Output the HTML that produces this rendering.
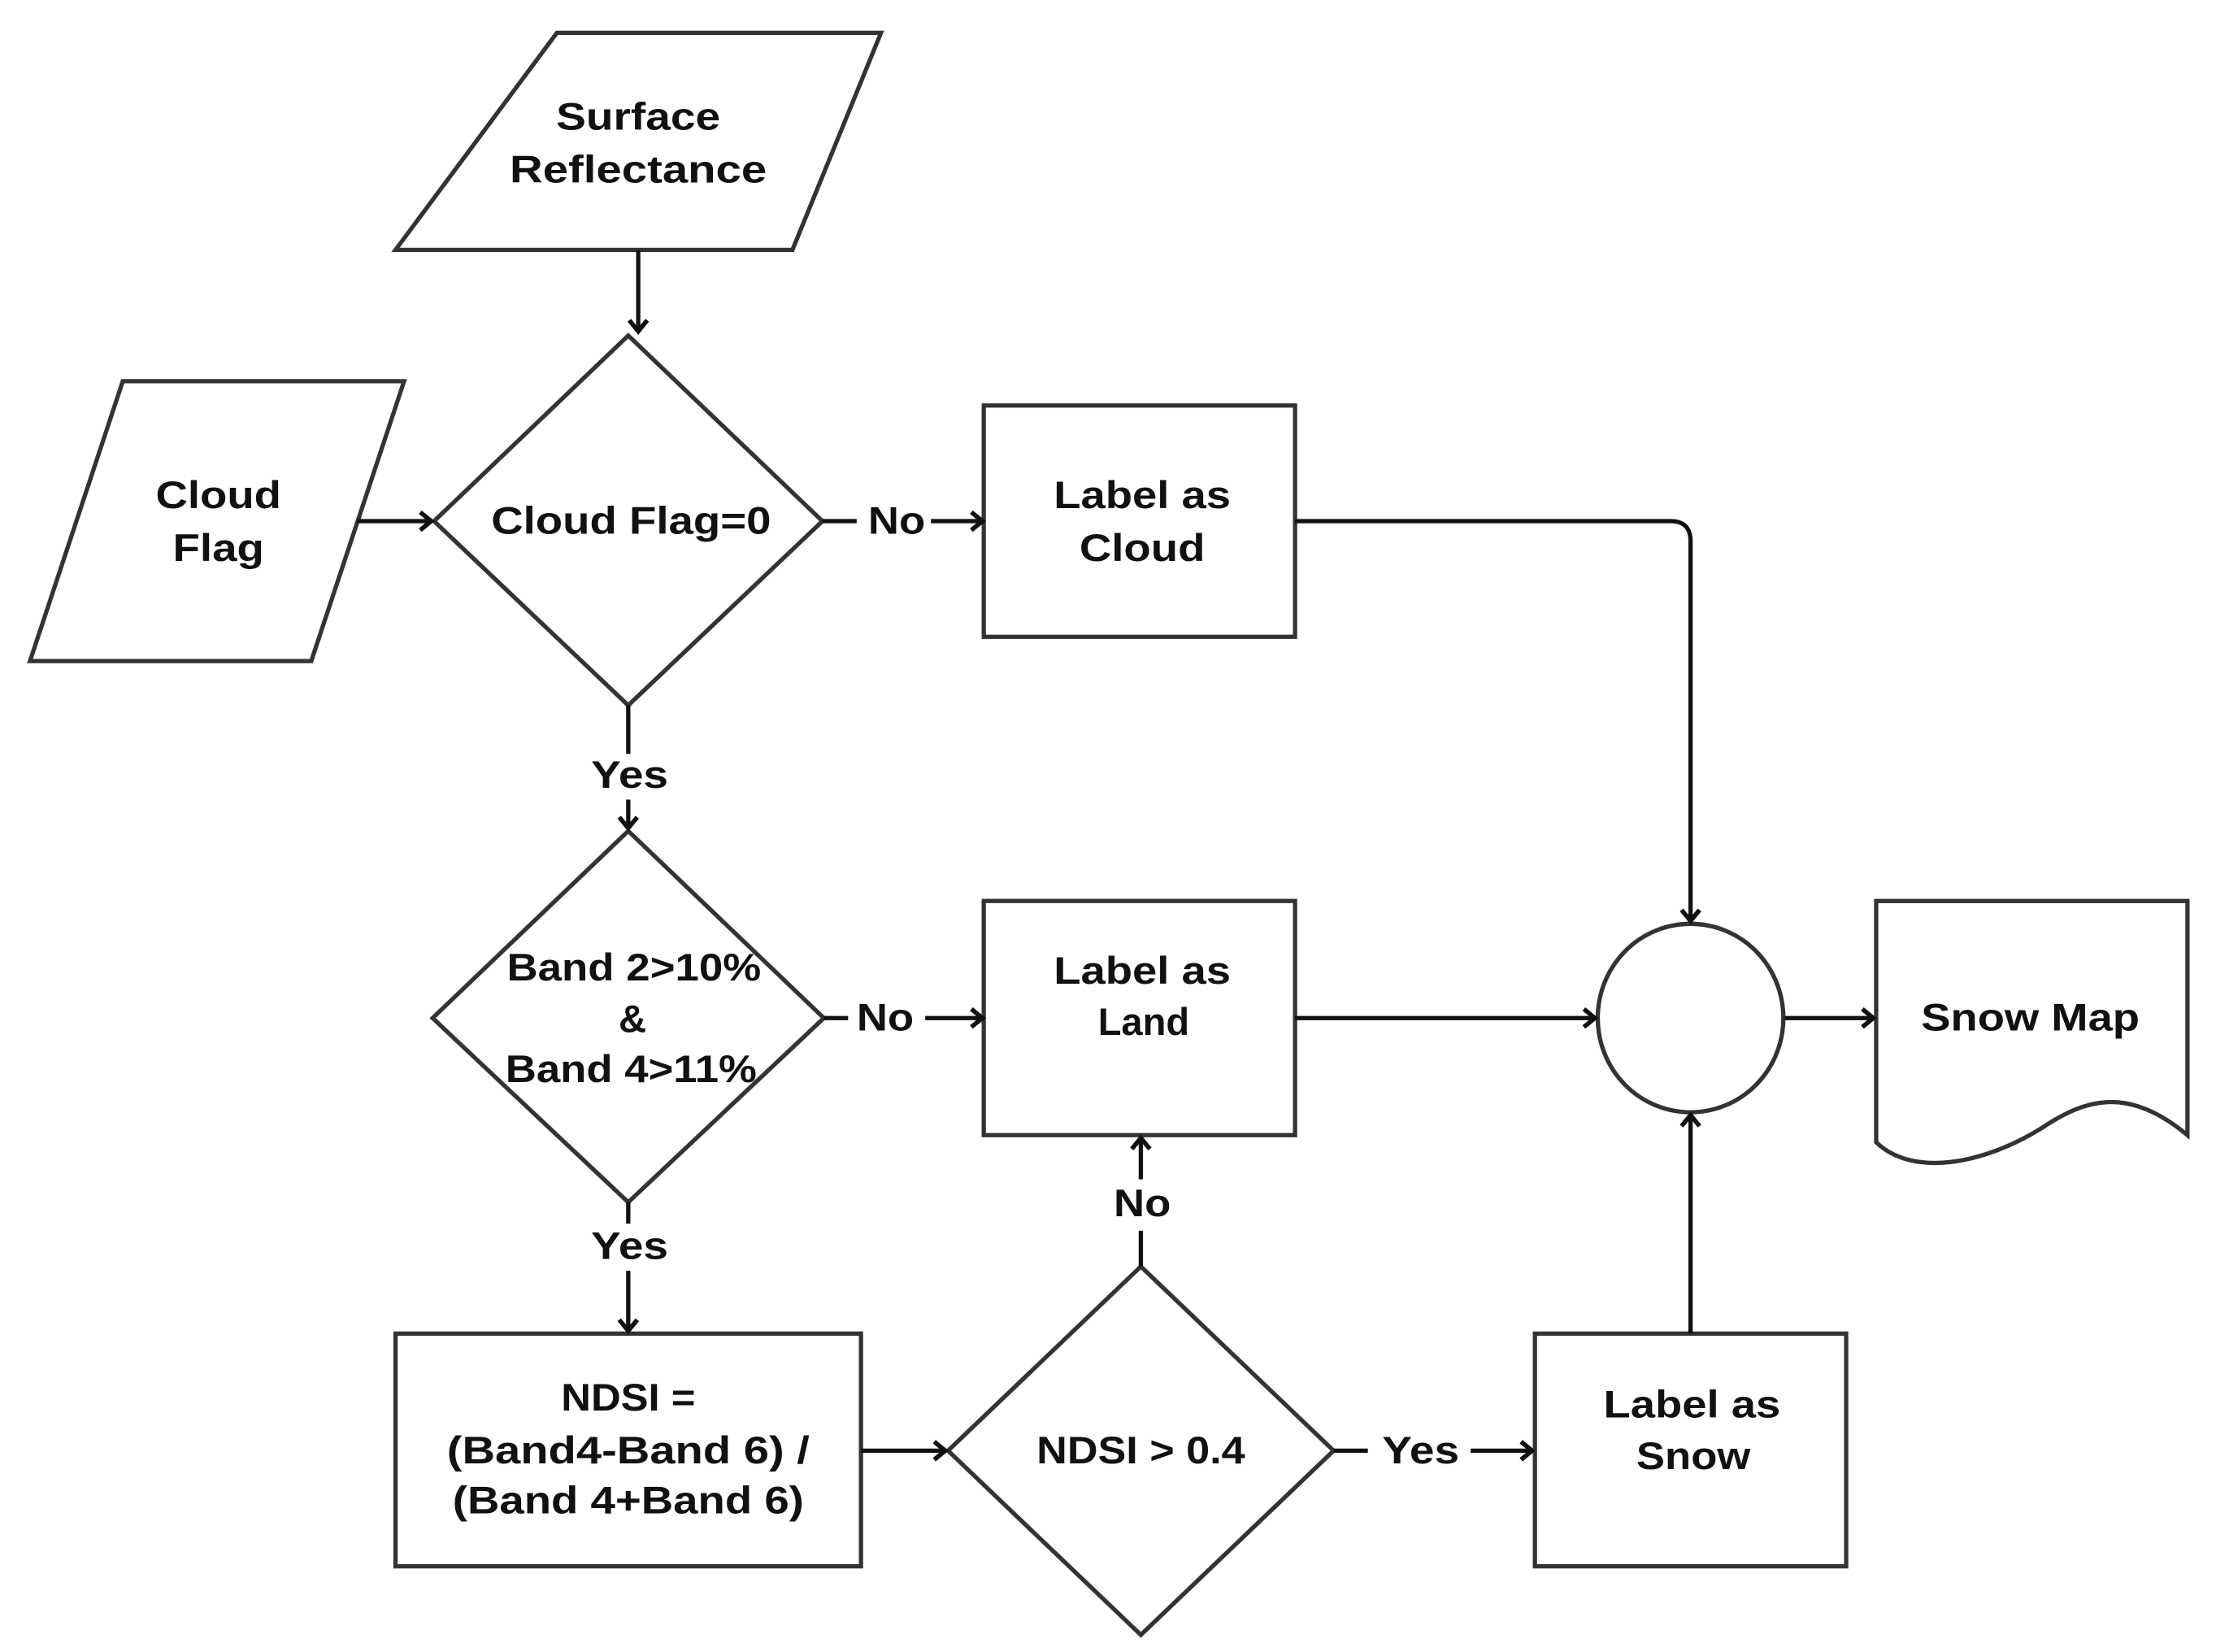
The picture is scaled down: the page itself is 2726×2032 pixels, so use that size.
<!DOCTYPE html>
<html><head><meta charset="utf-8"><style>
html,body{margin:0;padding:0;background:#fff;}
svg{display:block;}
text{font-family:"Liberation Sans","DejaVu Sans",sans-serif;font-weight:bold;font-size:27px;fill:#111;text-anchor:middle;dominant-baseline:central;}
</style></head><body>
<svg width="2726" height="2032" viewBox="0 0 1552 1157" preserveAspectRatio="none" xmlns="http://www.w3.org/2000/svg">
<defs>
<marker id="a" viewBox="0 0 20 20" refX="18" refY="10" markerWidth="14" markerHeight="14" markerUnits="userSpaceOnUse" orient="auto" overflow="visible">
<path d="M7,1 L18,10 L7,19" fill="none" stroke="#111" stroke-width="4.5"/>
</marker>
</defs>
<g fill="none" stroke="#333" stroke-width="3">
<polygon points="390,23 617,23 555,175 277,175"/>
<polygon points="86,267 283,267 218,463 21,463"/>
<polygon points="440,235 576,365 440,494 304,365"/>
<rect x="689" y="284" width="218" height="162"/>
<polygon points="440,582 577,713 440,842 303,713"/>
<rect x="689" y="631" width="218" height="164"/>
<ellipse cx="1184" cy="713" rx="65" ry="66"/>
<path d="M1314,631 L1532,631 L1532,795 C1490,760 1460,770 1430,790 C1390,815 1340,825 1314,800 Z"/>
<rect x="277" y="934" width="326" height="163"/>
<polygon points="799,887 934,1016 799,1145 664,1016"/>
<rect x="1075" y="934" width="218" height="163"/>
</g>
<g fill="none" stroke="#111" stroke-width="3">
<path d="M447,175 L447,232" marker-end="url(#a)"/>
<path d="M250,365 L302,365" marker-end="url(#a)"/>
<path d="M576,365 L600,365"/>
<path d="M652,365 L688,365" marker-end="url(#a)"/>
<path d="M907,365 L1170,365 Q1184,365 1184,379 L1184,645" marker-end="url(#a)"/>
<path d="M440,494 L440,528"/>
<path d="M440,560 L440,580" marker-end="url(#a)"/>
<path d="M577,713 L594,713"/>
<path d="M648,713 L688,713" marker-end="url(#a)"/>
<path d="M907,713 L1117,713" marker-end="url(#a)"/>
<path d="M1250,713 L1312,713" marker-end="url(#a)"/>
<path d="M440,842 L440,857"/>
<path d="M440,890 L440,932" marker-end="url(#a)"/>
<path d="M603,1016 L662,1016" marker-end="url(#a)"/>
<path d="M799,887 L799,862"/>
<path d="M799,826 L799,797" marker-end="url(#a)"/>
<path d="M934,1016 L958,1016"/>
<path d="M1030,1016 L1073,1016" marker-end="url(#a)"/>
<path d="M1184,934 L1184,781" marker-end="url(#a)"/>
</g>
<text x="447" y="82" textLength="115" lengthAdjust="spacingAndGlyphs">Surface</text>
<text x="447" y="119" textLength="180" lengthAdjust="spacingAndGlyphs">Reflectance</text>
<text x="153" y="347" textLength="88" lengthAdjust="spacingAndGlyphs">Cloud</text>
<text x="153" y="384" textLength="64" lengthAdjust="spacingAndGlyphs">Flag</text>
<text x="442" y="365" textLength="196" lengthAdjust="spacingAndGlyphs">Cloud Flag=0</text>
<text x="628" y="365" textLength="40" lengthAdjust="spacingAndGlyphs">No</text>
<text x="800" y="347" textLength="124" lengthAdjust="spacingAndGlyphs">Label as</text>
<text x="800" y="384" textLength="88" lengthAdjust="spacingAndGlyphs">Cloud</text>
<text x="441" y="543" textLength="54" lengthAdjust="spacingAndGlyphs">Yes</text>
<text x="444" y="678" textLength="178" lengthAdjust="spacingAndGlyphs">Band 2&gt;10%</text>
<text x="443" y="714">&amp;</text>
<text x="442" y="749" textLength="176" lengthAdjust="spacingAndGlyphs">Band 4&gt;11%</text>
<text x="620" y="713" textLength="40" lengthAdjust="spacingAndGlyphs">No</text>
<text x="800" y="680" textLength="124" lengthAdjust="spacingAndGlyphs">Label as</text>
<text x="801" y="716" textLength="64" lengthAdjust="spacingAndGlyphs">Land</text>
<text x="1422" y="713" textLength="153" lengthAdjust="spacingAndGlyphs">Snow Map</text>
<text x="441" y="873" textLength="54" lengthAdjust="spacingAndGlyphs">Yes</text>
<text x="800" y="843" textLength="40" lengthAdjust="spacingAndGlyphs">No</text>
<text x="440" y="979" textLength="94" lengthAdjust="spacingAndGlyphs">NDSI =</text>
<text x="440" y="1016" textLength="254" lengthAdjust="spacingAndGlyphs">(Band4-Band 6) /</text>
<text x="440" y="1051" textLength="246" lengthAdjust="spacingAndGlyphs">(Band 4+Band 6)</text>
<text x="799" y="1016" textLength="146" lengthAdjust="spacingAndGlyphs">NDSI &gt; 0.4</text>
<text x="995" y="1016" textLength="54" lengthAdjust="spacingAndGlyphs">Yes</text>
<text x="1185" y="984" textLength="124" lengthAdjust="spacingAndGlyphs">Label as</text>
<text x="1186" y="1020" textLength="80" lengthAdjust="spacingAndGlyphs">Snow</text>
</svg>
</body></html>
